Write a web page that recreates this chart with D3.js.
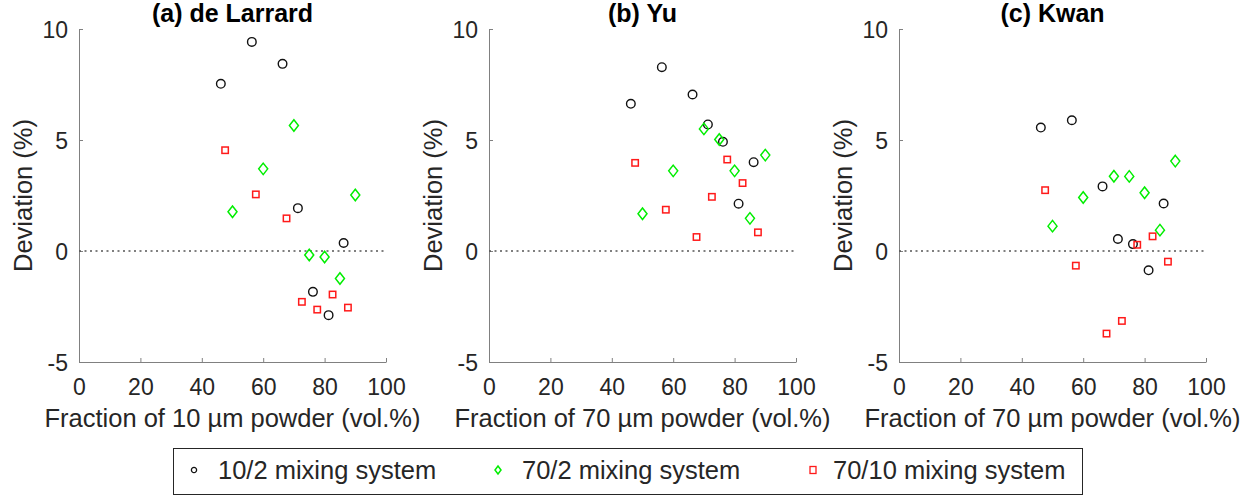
<!DOCTYPE html>
<html>
<head>
<meta charset="utf-8">
<script src="https://cdn.jsdelivr.net/npm/d3@7"></script>
<style>
  body { margin: 0; background: #fff; }
  svg { display: block; font-family: "Liberation Sans", Arial, sans-serif; }
</style>
</head>
<body>
<svg id="chart"></svg>
<script>
// data
const panelTitles = ["(a) de Larrard", "(b) Yu", "(c) Kwan"];
const xLabels = ["Fraction of 10 µm powder (vol.%)", "Fraction of 70 µm powder (vol.%)", "Fraction of 70 µm powder (vol.%)"];
const xTicks = [0, 20, 40, 60, 80, 100];
const yTicks = [-5, 0, 5, 10];
const seriesNames = ["10/2 mixing system", "70/2 mixing system", "70/10 mixing system"];

const circleX = [46.2, 56.3, 66.3, 71.3, 76.2, 81.3, 86.2];
const diamondX = [50, 60, 70, 75, 80, 85, 90];
const squareX = [47.6, 57.6, 67.6, 72.6, 77.6, 82.6, 87.6];

// one row per panel (a, b, c)
const mix10_2 = [
  [7.53, 9.42, 8.43, 1.93, -1.84, -2.89, 0.36],
  [6.63, 8.28, 7.05, 5.70, 4.92, 2.13, 4.00],
  [5.56, 5.89, 2.91, 0.54, 0.31, -0.87, 2.14]
];
const mix70_2 = [
  [1.77, 3.70, 5.65, -0.18, -0.27, -1.24, 2.52],
  [1.68, 3.61, 5.50, 5.02, 3.61, 1.47, 4.32],
  [1.12, 2.41, 3.37, 3.36, 2.62, 0.94, 4.05]
];
const mix70_10 = [
  [4.54, 2.55, 1.47, -2.29, -2.64, -1.96, -2.55],
  [3.97, 1.86, 0.63, 2.44, 4.12, 3.06, 0.84],
  [2.74, -0.66, -3.72, -3.15, 0.28, 0.66, -0.48]
];

const width = 1255, height = 496;
const svg = d3.select("#chart").attr("width", width).attr("height", height);

const textColor = "#262626";
const axisColor = "#808080";
const panelLeft = [79, 489, 899];
const plotW = 307, plotTop = 29, plotBottom = 362;

const diamondPath = (w, h) => `M0,${-h / 2}L${w / 2},0L0,${h / 2}L${-w / 2},0Z`;

panelLeft.forEach((left, i) => {
  const x = d3.scaleLinear().domain([0, 100]).range([left, left + plotW]);
  const y = d3.scaleLinear().domain([-5, 10]).range([plotBottom, plotTop]);
  const g = svg.append("g");

  // axes (plain hyphen for negatives, like the original)
  const xAxis = g.append("g")
    .attr("transform", `translate(0,${plotBottom})`)
    .call(d3.axisBottom(x).tickValues(xTicks).tickFormat(d => String(d))
      .tickSizeInner(-4).tickSizeOuter(0).tickPadding(15));
  const yAxis = g.append("g")
    .attr("transform", `translate(${left},0)`)
    .call(d3.axisLeft(y).tickValues(yTicks).tickFormat(d => String(d))
      .tickSizeInner(-4).tickSizeOuter(0).tickPadding(11));
  [xAxis, yAxis].forEach(a => {
    a.select(".domain").attr("stroke", axisColor);
    a.selectAll(".tick line").attr("stroke", axisColor);
    a.selectAll(".tick text").attr("fill", textColor).style("font-size", "23px")
      .style("font-family", "Liberation Sans, Arial, sans-serif");
  });
  xAxis.selectAll(".tick text").attr("dy", "0.8em");
  yAxis.selectAll(".tick text").attr("dy", "0.36em");

  // zero line
  g.append("line")
    .attr("x1", x(0)).attr("x2", x(100))
    .attr("y1", y(0)).attr("y2", y(0))
    .attr("stroke", "#555").attr("stroke-width", 1.3)
    .attr("stroke-dasharray", "2,3.5");

  // labels
  g.append("text")
    .attr("x", x(50)).attr("y", 22)
    .attr("text-anchor", "middle")
    .attr("font-weight", "bold").attr("font-size", 25)
    .attr("fill", "#000")
    .text(panelTitles[i]);
  g.append("text")
    .attr("x", x(50)).attr("y", 427)
    .attr("text-anchor", "middle").attr("font-size", 25.5)
    .attr("fill", textColor)
    .text(xLabels[i]);
  g.append("text")
    .attr("transform", `translate(${left - 56},${(plotTop + plotBottom) / 2}) rotate(-90)`)
    .attr("text-anchor", "middle").attr("font-size", 25.5)
    .attr("dy", "0.35em")
    .attr("fill", textColor)
    .text("Deviation (%)");

  // markers
  g.selectAll(".c").data(mix10_2[i]).join("circle")
    .attr("cx", (d, j) => x(circleX[j])).attr("cy", d => y(d))
    .attr("r", 4.3).attr("fill", "none").attr("stroke", "#111").attr("stroke-width", 1.4);
  g.selectAll(".d").data(mix70_2[i]).join("path")
    .attr("transform", (d, j) => `translate(${x(diamondX[j])},${y(d)})`)
    .attr("d", diamondPath(9, 11.5))
    .attr("fill", "none").attr("stroke", "#00ee00").attr("stroke-width", 1.5);
  g.selectAll(".s").data(mix70_10[i]).join("rect")
    .attr("x", (d, j) => x(squareX[j]) - 3.2).attr("y", d => y(d) - 3.2)
    .attr("width", 6.4).attr("height", 6.4)
    .attr("fill", "none").attr("stroke", "#ff1a1a").attr("stroke-width", 1.5);
});

// legend
const legend = svg.append("g");
legend.append("rect")
  .attr("x", 173.5).attr("y", 448.5).attr("width", 909).attr("height", 46)
  .attr("fill", "#fff").attr("stroke", "#262626").attr("stroke-width", 1);

const legendX = [194, 498, 813];
const lg = legend.selectAll(".item").data(seriesNames).join("g")
  .attr("transform", (d, i) => `translate(${legendX[i]},470)`);
lg.append("text")
  .attr("x", (d, i) => i === 2 ? 20 : 24).attr("dy", "0.35em")
  .attr("font-size", 25.5).attr("fill", textColor)
  .text(d => d);
lg.filter((d, i) => i === 0).append("circle")
  .attr("r", 2.6).attr("fill", "none").attr("stroke", "#111").attr("stroke-width", 1.3);
lg.filter((d, i) => i === 1).append("path")
  .attr("d", diamondPath(6, 8))
  .attr("fill", "none").attr("stroke", "#00ee00").attr("stroke-width", 1.5);
lg.filter((d, i) => i === 2).append("rect")
  .attr("x", -3).attr("y", -3.5).attr("width", 6).attr("height", 7)
  .attr("fill", "none").attr("stroke", "#ff1a1a").attr("stroke-width", 1.3);
</script>
</body>
</html>
